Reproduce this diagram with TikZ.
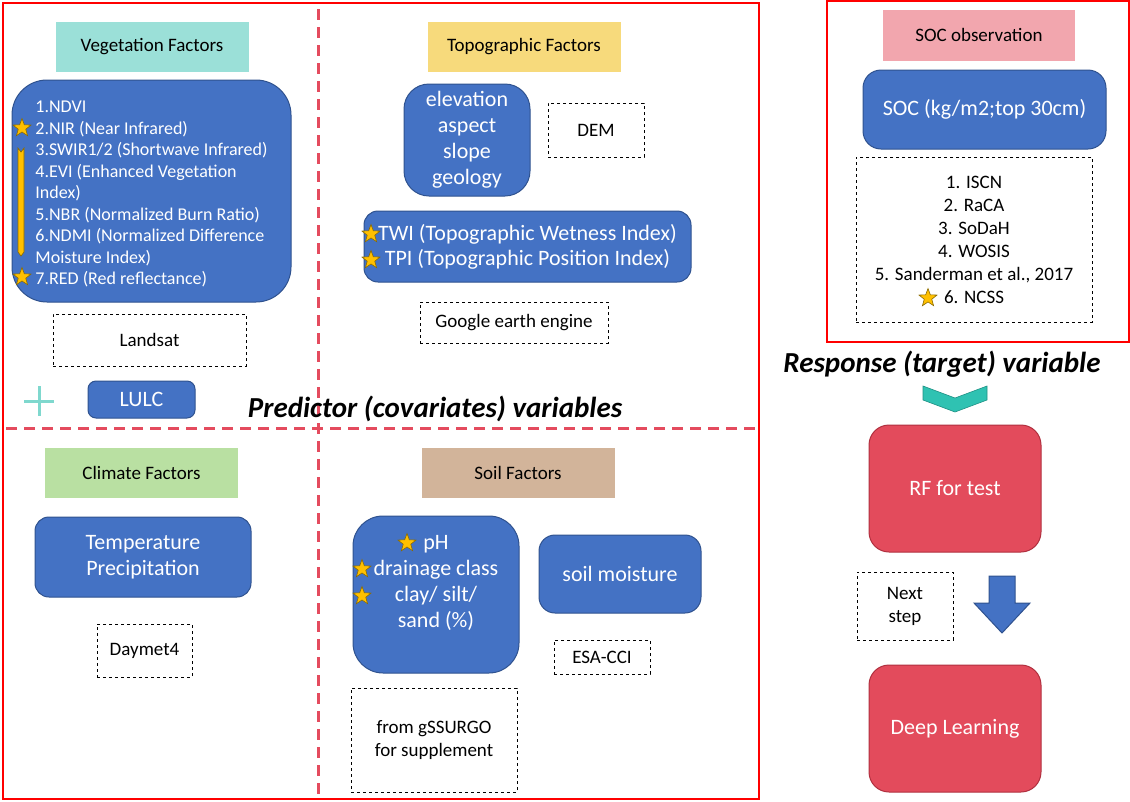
\documentclass[tikz,border=0pt]{standalone}
\usepackage{fontspec}
\setmainfont{Carlito}
\usetikzlibrary{shapes.geometric,positioning}
\definecolor{boxblue}{HTML}{4472C4}
\definecolor{boxline}{HTML}{2F528F}
\definecolor{vegcol}{HTML}{9BE0D8}
\definecolor{topocol}{HTML}{F7DA7C}
\definecolor{climcol}{HTML}{B9E0A2}
\definecolor{soilcol}{HTML}{D2B49A}
\definecolor{soccol}{HTML}{F2A6AE}
\definecolor{dashred}{HTML}{E44B5E}
\definecolor{modelred}{HTML}{E34B5C}
\definecolor{modelline}{HTML}{B0303F}
\definecolor{starfill}{HTML}{FFC000}
\definecolor{starline}{HTML}{8A6A00}
\definecolor{tealcol}{HTML}{2FC2B2}
\definecolor{tealline}{HTML}{1F9084}
\definecolor{pluscol}{HTML}{7FD8CE}
\begin{document}
\begin{tikzpicture}[x=1pt, y=-1pt,
    factor/.style={minimum width=193pt, minimum height=50pt, inner sep=0pt,
      font=\fontsize{19}{23}\selectfont},
    bluebox/.style={draw=boxline, fill=boxblue, text=white, line width=1pt,
      inner sep=0pt, align=center, font=\fontsize{22}{26}\selectfont},
    redbox/.style={draw=modelline, fill=modelred, text=white, line width=1pt,
      inner sep=0pt, rounded corners=20pt, minimum width=172pt,
      minimum height=127pt, font=\fontsize{22}{26}\selectfont},
    source/.style={draw, dashed, line width=0.8pt, inner sep=0pt, align=center,
      font=\fontsize{19}{23}\selectfont},
    goldstar/.style={star, star points=5, star point ratio=2.4, fill=starfill,
      draw=starline, line width=0.6pt, minimum size=19pt, inner sep=0pt},
    divider/.style={dashred, line width=3pt, dash pattern=on 11pt off 7pt},
    heading/.style={font=\fontsize{29}{33}\selectfont\bfseries\itshape}]
  \useasboundingbox (0,0) rectangle (1130,801);
  % Frames
  \draw [red, line width=2pt] (3,3) rectangle (759,799);
  \draw [red, line width=2pt] (827,1) rectangle (1129,342);
  \draw [divider] (318,9) -- (318,799);
  \draw [divider] (6,428) -- (758,428);

  % Vegetation
  \node [factor, fill=vegcol] (vegtitle) at (152,47) {Vegetation Factors};
  \node [bluebox, rounded corners=35pt, minimum width=279pt, minimum height=222pt]
    (veg) at (151.5,191) {};
  \node [text=white, align=left, inner sep=0pt, font=\fontsize{18}{21.5}\selectfont]
    (vegtext) at (151.5,194)
    {1.NDVI\\2.NIR (Near Infrared)\\3.SWIR1/2 (Shortwave Infrared)\\
     4.EVI (Enhanced Vegetation\\Index)\\5.NBR (Normalized Burn Ratio)\\
     6.NDMI (Normalized Difference\\Moisture Index)\\7.RED (Red reflectance)};
  \filldraw [fill=starfill, draw=starline, line width=0.6pt]
    (18,148) -- (21,152) -- (24,148) -- (24,252) -- (21,256) -- (18,252) -- cycle;
  \node [goldstar] (nirstar) at (22,128) {};
  \node [goldstar] (redstar) at (22,277) {};
  \node [source, minimum width=193pt, minimum height=52pt] (landsat) at (149.5,340) {Landsat};
  \draw [pluscol, line width=3pt] (39,386) -- (39,416);
  \draw [pluscol, line width=3pt] (24,401) -- (54,401);
  \node [bluebox, rounded corners=8pt, minimum width=107pt, minimum height=37pt]
    (lulc) at (141.5,399.5) {LULC};
  \node [heading] (predictor) at (435,409) {Predictor (covariates) variables};

  % Topography
  \node [factor, fill=topocol] (topotitle) at (524,47) {Topographic Factors};
  \node [bluebox, rounded corners=25pt, minimum width=126pt, minimum height=112pt]
    (terrain) at (467,140) {elevation\\aspect\\slope\\geology};
  \node [source, minimum width=96pt, minimum height=54pt] (dem) at (596,130) {DEM};
  \node [bluebox, rounded corners=14pt, minimum width=327pt, minimum height=71pt,
    font=\fontsize{22}{25}\selectfont] (twi) at (527.5,246.5)
    {TWI (Topographic Wetness Index)\\TPI (Topographic Position Index)};
  \node [goldstar] (twistar) at (371,234) {};
  \node [goldstar] (tpistar) at (371,260) {};
  \node [source, minimum width=188pt, minimum height=41pt] (gee) at (514,322.5) {Google earth engine};

  % Climate
  \node [factor, fill=climcol] (climtitle) at (141.5,472.5) {Climate Factors};
  \node [bluebox, rounded corners=14pt, minimum width=216pt, minimum height=80pt]
    (climate) at (143,557) {Temperature\\Precipitation};
  \node [source, minimum width=95pt, minimum height=53pt] (daymet) at (144.5,650.5) {Daymet4};

  % Soil
  \node [factor, fill=soilcol] (soiltitle) at (518,473) {Soil Factors};
  \node [bluebox, rounded corners=30pt, minimum width=166pt, minimum height=157pt]
    (soil) at (436,594.5) {};
  \node [text=white, align=center, inner sep=0pt, font=\fontsize{22}{26}\selectfont]
    (soiltext) at (436,583) {pH\\drainage class\\clay/ silt/\\sand (\%)};
  \node [goldstar] (phstar) at (407,543) {};
  \node [goldstar] (drainstar) at (362,569) {};
  \node [goldstar] (texturestar) at (362,596) {};
  \node [bluebox, rounded corners=16pt, minimum width=162pt, minimum height=78pt]
    (moisture) at (620,574) {soil moisture};
  \node [source, minimum width=96pt, minimum height=34pt] (esacci) at (602,657) {ESA-CCI};
  \node [source, minimum width=166pt, minimum height=104pt] (gssurgo) at (434,740)
    {from gSSURGO\\for supplement};

  % Response
  \node [factor, fill=soccol, minimum width=192pt, minimum height=51pt]
    (soctitle) at (979,35) {SOC observation};
  \node [bluebox, rounded corners=18pt, minimum width=243pt, minimum height=79pt]
    (soc) at (984.5,109.5) {SOC (kg/m2;top 30cm)};
  \node [source, minimum width=236pt, minimum height=165pt] (socdata) at (974,239.5)
    {1. ISCN\\2. RaCA\\3. SoDaH\\4. WOSIS\\5. Sanderman et al., 2017\\6. NCSS};
  \node [goldstar] (ncssstar) at (928,298) {};
  \node [heading] (response) at (942,364) {Response (target) variable};
  \filldraw [fill=tealcol, draw=tealline, line width=0.6pt]
    (923,386) -- (955,398) -- (987,386) -- (987,400) -- (955,412) -- (923,400) -- cycle;

  % Models
  \node [redbox] (rf) at (955,488.5) {RF for test};
  \node [source, minimum width=96pt, minimum height=68pt] (nextstep) at (905,606) {Next\\step};
  \filldraw [fill=boxblue, draw=boxline, line width=1pt]
    (989,576) -- (1015,576) -- (1015,603) -- (1030,603) -- (1002,633) -- (974,603)
    -- (989,603) -- cycle;
  \node [redbox] (deep) at (955,728.5) {Deep Learning};
\end{tikzpicture}
\end{document}
